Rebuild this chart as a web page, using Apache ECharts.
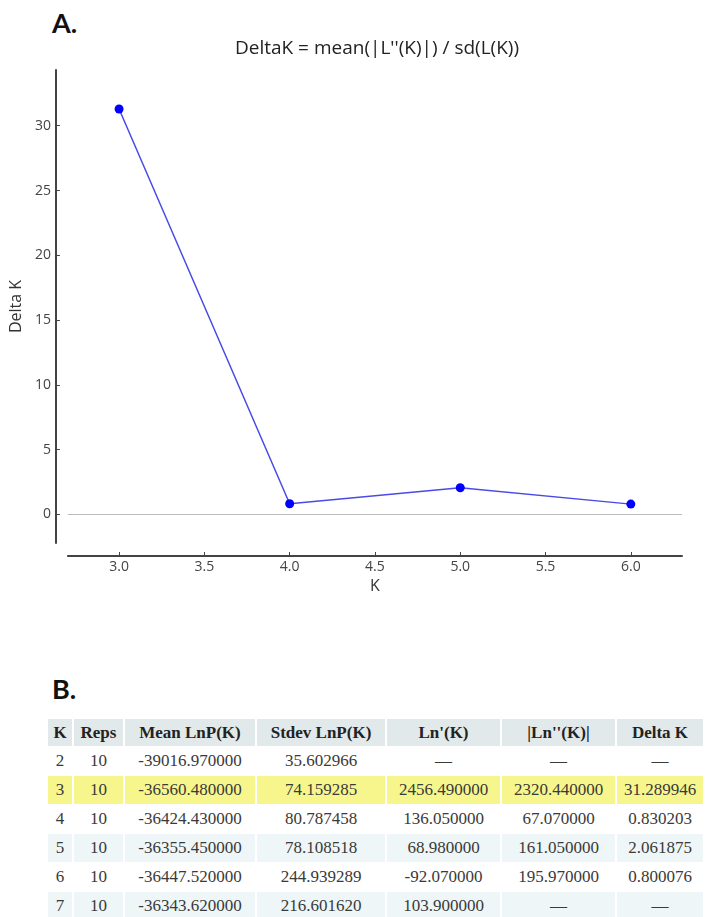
<!DOCTYPE html>
<html>
<head>
<meta charset="utf-8">
<script src="https://cdn.jsdelivr.net/npm/echarts@6/dist/echarts.min.js"></script>
<style>
  html, body { margin: 0; padding: 0; background: #fff; width: 705px; height: 917px; overflow: hidden; }
  #chart { position: absolute; left: 0; top: 0; width: 705px; height: 640px; }
  .panel { position: absolute; font-family: Lato, "Open Sans", sans-serif; font-weight: bold; font-size: 27px; color: #111; }
  #tbl { position: absolute; left: 46px; top: 718px; border-collapse: separate; border-spacing: 2px 1px; table-layout: fixed;
         font-family: "Liberation Serif", "Times New Roman", serif; font-size: 17px; color: #3a3a3a; }
  #tbl th { background: #e2e9ea; font-weight: bold; color: #222; height: 27px; padding: 0; text-align: center; white-space: nowrap; }
  #tbl td { height: 28px; padding: 0; text-align: center; white-space: nowrap; }
  #tbl tr.alt td { background: #eef6f7; }
  #tbl tr.hl td { background: #f7f68c; }
</style>
</head>
<body>
<div class="panel" style="left:52px; top:6px;">A.</div>
<div class="panel" style="left:52px; top:672px;">B.</div>
<div id="chart"></div>
<table id="tbl"></table>
<script>
// ---- chart data ----
var kValues = [3, 4, 5, 6];
var deltaK = [31.289946, 0.830203, 2.061875, 0.800076];
var xTicks = [3.0, 3.5, 4.0, 4.5, 5.0, 5.5, 6.0];
var yTicks = [0, 5, 10, 15, 20, 25, 30];

// ---- table data ----
var colHeaders = ["K", "Reps", "Mean LnP(K)", "Stdev LnP(K)", "Ln'(K)", "|Ln''(K)|", "Delta K"];
var colK = ["2", "3", "4", "5", "6", "7"];
var colReps = ["10", "10", "10", "10", "10", "10"];
var colMean = ["-39016.970000", "-36560.480000", "-36424.430000", "-36355.450000", "-36447.520000", "-36343.620000"];
var colStdev = ["35.602966", "74.159285", "80.787458", "78.108518", "244.939289", "216.601620"];
var colLn1 = ["\u2014", "2456.490000", "136.050000", "68.980000", "-92.070000", "103.900000"];
var colLn2 = ["\u2014", "2320.440000", "67.070000", "161.050000", "195.970000", "\u2014"];
var colDelta = ["\u2014", "31.289946", "0.830203", "2.061875", "0.800076", "\u2014"];
var highlightK = "3";

// build table
(function () {
  var widths = [24, 49, 130, 128, 113, 113, 86];
  var t = document.getElementById('tbl');
  var h = '<tr>';
  colHeaders.forEach(function (c, i) { h += '<th style="width:' + widths[i] + 'px">' + c + '</th>'; });
  h += '</tr>';
  for (var r = 0; r < colK.length; r++) {
    var cls = colK[r] === highlightK ? 'hl' : (r % 2 === 1 ? 'alt' : '');
    h += '<tr class="' + cls + '">';
    [colK, colReps, colMean, colStdev, colLn1, colLn2, colDelta].forEach(function (col) {
      h += '<td>' + col[r] + '</td>';
    });
    h += '</tr>';
  }
  t.innerHTML = h;
})();

var chart = echarts.init(document.getElementById('chart'), null, { renderer: 'canvas' });
var axisColor = '#444';
var fontFam = '"Open Sans", "DejaVu Sans", sans-serif';
var tickFont = { color: '#444', fontSize: 14, fontFamily: fontFam };
var nameFont = { color: '#333', fontSize: 16, fontFamily: fontFam };
chart.setOption({
  animation: false,
  title: {
    text: "DeltaK = mean(|L''(K)|) / sd(L(K))",
    left: 372, top: 34, textAlign: 'center',
    textStyle: { fontSize: 19, fontWeight: 'normal', color: '#222', fontFamily: fontFam }
  },
  grid: { left: 65, right: 23, top: 70, bottom: 640 - 543 },
  xAxis: {
    type: 'value', min: 2.7, max: 6.3, offset: 13,
    name: 'K', nameLocation: 'middle', nameGap: 21,
    nameTextStyle: nameFont,
    axisLine: { show: true, onZero: false, lineStyle: { color: axisColor, width: 2 } },
    axisTick: { show: true, inside: true, length: 4, customValues: xTicks, lineStyle: { color: axisColor } },
    axisLabel: Object.assign({ customValues: xTicks, margin: 4, formatter: function (v) { return v.toFixed(1); } }, tickFont),
    splitLine: { show: false }
  },
  yAxis: {
    type: 'value', min: -2.2, max: 34.3, offset: 12,
    name: 'Delta K', nameLocation: 'middle', nameGap: 26,
    nameTextStyle: nameFont,
    axisLine: { show: true, onZero: false, lineStyle: { color: axisColor, width: 2 } },
    axisTick: { show: true, inside: true, length: 4, customValues: yTicks, lineStyle: { color: axisColor } },
    axisLabel: Object.assign({ customValues: yTicks, margin: 5 }, tickFont),
    splitLine: { show: false }
  },
  series: [{
    type: 'line',
    data: kValues.map(function (k, i) { return [k, deltaK[i]]; }),
    symbol: 'circle', symbolSize: 9,
    lineStyle: { color: '#4a4ae8', width: 1.5 },
    itemStyle: { color: '#0000ff' },
    markLine: {
      silent: true, symbol: 'none', label: { show: false },
      lineStyle: { color: '#bbb', width: 1, type: 'solid' },
      data: [{ yAxis: 0 }]
    },
    z: 3
  }]
});
</script>
</body>
</html>
